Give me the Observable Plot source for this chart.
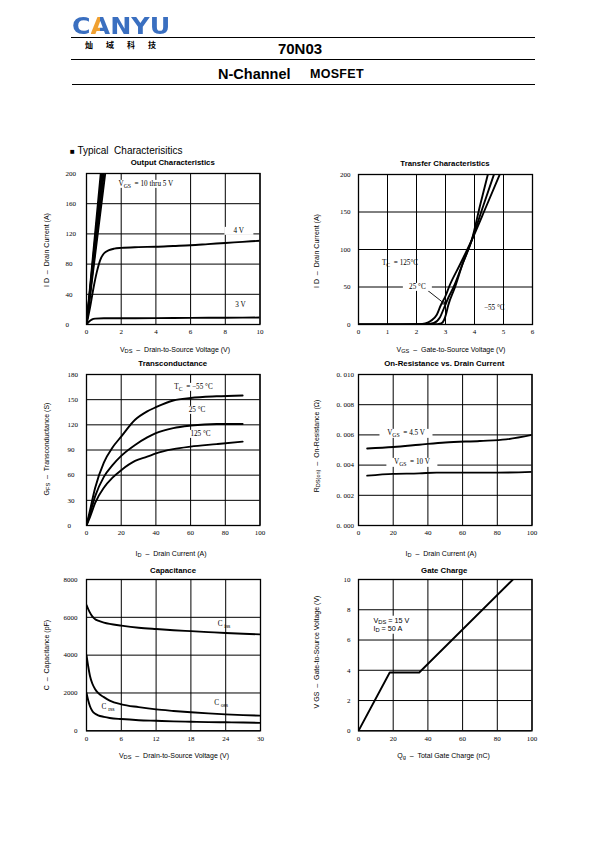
<!DOCTYPE html>
<html>
<head>
<meta charset="utf-8">
<script src="https://cdn.jsdelivr.net/npm/d3@7"></script>
<script src="https://cdn.jsdelivr.net/npm/@observablehq/plot@0.6"></script>
<style>
  body { margin: 0; background: #fff; }
  #page { position: relative; width: 595px; height: 842px; overflow: hidden; background: #fff;
          font-family: "Liberation Sans", Arial, sans-serif; color: #000; }
  .abs { position: absolute; white-space: nowrap; line-height: 1; }
  .hline { position: absolute; height: 0; border-top: 1px solid #000; }
  .title { font-weight: bold; font-size: 7.8px; transform: translate(-50%, -50%); }
  .xlab { font-size: 7px; transform: translate(-50%, -50%); }
  .ylab { font-size: 7px; transform: translate(-50%, -50%) rotate(-90deg); }
  sub { font-size: 0.8em; vertical-align: -0.3em; line-height: 0; }
  .ann { font-family: "Liberation Serif", serif; font-size: 7.2px; background: #fff; padding: 0 4px;
         transform: translate(-50%, -50%); line-height: 1.15; }
  .ann.sans { font-family: "Liberation Sans", Arial, sans-serif; font-size: 7.2px; padding: 1px 2px; text-align: left; }
  .ann.clear { background: transparent; }
  svg { overflow: visible; }
</style>
</head>
<body>
<div id="page"></div>
<script>
// ---------------- DATA ----------------
// Output Characteristics (ID vs VDS)
const outXTicks = [0, 2, 4, 6, 8, 10];
const outYTicks = [0, 40, 80, 120, 160, 200];
const outVgs10 = [[0, 0], [0.82, 200]];
const outVgs8 = [[0, 0], [0.88, 200]];
const outVgs7 = [[0, 0], [0.94, 200]];
const outVgs6 = [[0, 0], [1.0, 200]];
const outVgs5 = [[0, 0], [1.08, 200]];
const outVgs4 = [[0, 0], [0.2, 22], [0.4, 48], [0.6, 70], [0.8, 86], [1, 94], [1.3, 98.5], [1.6, 100.5], [2, 101.5],
                 [3, 102.5], [4, 103], [5, 104], [6, 105], [7, 106.5], [8, 108], [9, 109.5], [10, 111]];
const outVgs3 = [[0, 0], [0.15, 4], [0.3, 6.5], [0.5, 7.8], [1, 8.3], [2, 8.3], [4, 8.5], [6, 8.8], [8, 9], [10, 9.2]];

// Transfer Characteristics (ID vs VGS)
const trXTicks = [0, 1, 2, 3, 4, 5, 6];
const trYTicks = [0, 50, 100, 150, 200];
const trTc125 = [[0, 0], [2.0, 0.3], [2.3, 1.5], [2.5, 5], [2.7, 13], [2.83, 25], [3.0, 38], [3.12, 50], [3.5, 80],
                 [3.9, 112], [4.4, 157], [4.87, 200]];
const trTc25 = [[0, 0], [2.3, 0.3], [2.6, 2], [2.8, 9], [2.98, 25], [3.1, 36], [3.28, 50], [3.6, 82], [3.9, 112],
                [4.3, 158], [4.67, 200]];
const trTcM55 = [[0, 0], [2.6, 0.3], [2.85, 1.5], [2.95, 6], [3.02, 14], [3.09, 25], [3.33, 50], [3.6, 82],
                 [3.9, 112], [4.2, 160], [4.46, 200]];

// Transconductance (gFS vs ID)
const gfsXTicks = [0, 20, 40, 60, 80, 100];
const gfsYTicks = [0, 30, 60, 90, 120, 150, 180];
const gfsTcM55 = [[0, 0], [2, 18], [5, 45], [10, 75], [15, 93], [20, 106], [28, 126], [35, 136], [40, 141],
                  [50, 149], [60, 152], [75, 154], [90, 155]];
const gfsTc25 = [[0, 0], [2, 14], [5, 35], [10, 58], [15, 72], [20, 83], [28, 96], [35, 105], [40, 110],
                 [50, 116], [60, 119], [75, 121], [90, 121]];
const gfsTc125 = [[0, 0], [2, 10], [5, 27], [10, 45], [15, 57], [20, 66], [28, 77], [35, 82], [40, 86],
                  [50, 91], [60, 94], [75, 97], [90, 100]];

// On-Resistance vs Drain Current
const rdsXTicks = [0, 20, 40, 60, 80, 100];
const rdsYTicks = [0, 0.002, 0.004, 0.006, 0.008, 0.010];
const rdsVgs45 = [[5, 0.0051], [20, 0.0052], [35, 0.00535], [50, 0.0055], [70, 0.0056], [85, 0.0057], [100, 0.0060]];
const rdsVgs10 = [[5, 0.0033], [20, 0.00342], [35, 0.00345], [45, 0.0035], [60, 0.0035], [80, 0.0035], [100, 0.00355]];

// Capacitance (pF vs VDS)
const capXTicks = [0, 6, 12, 18, 24, 30];
const capYTicks = [0, 2000, 4000, 6000, 8000];
const capCiss = [[0, 6650], [0.5, 6300], [1, 6050], [1.5, 5900], [2, 5820], [3, 5720], [4, 5650], [6, 5560],
                 [9, 5450], [12, 5380], [15, 5320], [18, 5270], [21, 5220], [24, 5170], [27, 5130], [30, 5100]];
const capCoss = [[0, 4000], [0.3, 3400], [0.6, 2900], [1, 2500], [1.5, 2200], [2, 2000], [3, 1780], [4, 1600],
                 [6, 1400], [9, 1250], [12, 1130], [15, 1050], [18, 980], [21, 920], [24, 870], [27, 830], [30, 800]];
const capCrss = [[0, 2000], [0.3, 1600], [0.6, 1300], [1, 1050], [1.5, 900], [2, 820], [3, 740], [4, 680],
                 [6, 620], [9, 560], [12, 530], [15, 500], [18, 480], [21, 460], [24, 450], [27, 440], [30, 420]];

// Gate Charge (VGS vs Qg)
const gcXTicks = [0, 20, 40, 60, 80, 100];
const gcYTicks = [0, 2, 4, 6, 8, 10];
const gcVgs = [[0, 0], [18, 3.85], [35, 3.85], [89, 10]];

// ---------------- PAGE ----------------
const page = document.getElementById("page");
function addDiv(cls, html, left, top, extra) {
  const d = document.createElement("div");
  d.className = "abs " + cls;
  d.innerHTML = html;
  d.style.left = left + "px";
  d.style.top = top + "px";
  if (extra) Object.assign(d.style, extra);
  page.appendChild(d);
  return d;
}
function hline(x1, x2, y) {
  const d = document.createElement("div");
  d.className = "hline";
  d.style.left = x1 + "px"; d.style.width = (x2 - x1) + "px"; d.style.top = y + "px";
  page.appendChild(d);
}

// Header
const logo = addDiv("", "C<span class='la'>A</span>NYU", 72, 16, {
  fontFamily: '"DejaVu Sans", sans-serif', fontWeight: "bold", fontSize: "23px", color: "#3a6fc0",
  lineHeight: "20px", height: "20px", transform: "scaleX(1.1)", transformOrigin: "left top"
});
const la = logo.querySelector(".la");
Object.assign(la.style, {
  background: "linear-gradient(90deg, #f0a030 0%, #f0a030 48%, #3a6fc0 48%, #3a6fc0 100%)",
  backgroundClip: "text", color: "transparent"
});
la.style.setProperty("-webkit-background-clip", "text");
addDiv("", "灿域科技", 85, 41, {
  fontFamily: '"Noto Sans CJK SC", sans-serif', fontWeight: "bold", fontSize: "8px", letterSpacing: "13px"
});
hline(71, 535, 37);
addDiv("", "70N03", 300, 48, { fontWeight: "bold", fontSize: "15px", transform: "translate(-50%,-50%)" });
hline(71, 535, 59);
addDiv("", "N-Channel", 218, 74, { fontWeight: "bold", fontSize: "14.5px", transform: "translateY(-50%)" });
addDiv("", "MOSFET", 310, 73.5, { fontWeight: "bold", fontSize: "12.5px", letterSpacing: "0.3px", transform: "translateY(-50%)" });
hline(72, 535, 84);
addDiv("", "<span style='font-size:8px'>■</span> Typical&nbsp; Characterisitics", 70, 151, { fontSize: "10px", transform: "translateY(-50%)" });

// ---------------- PANELS ----------------
const ML = 40, MR = 12, MT = 10, MB = 24;
function panel(p) {
  const chart = Plot.plot({
    width: p.w + ML + MR, height: p.h + MT + MB,
    marginLeft: ML, marginRight: MR, marginTop: MT, marginBottom: MB,
    x: { domain: p.xDomain },
    y: { domain: p.yDomain },
    style: { fontFamily: '"Liberation Serif", serif', fontSize: "7px", color: "#000", background: "transparent", overflow: "visible" },
    marks: [
      Plot.gridX(p.xTicks, { stroke: "#000", strokeOpacity: 1, strokeWidth: 1 }),
      Plot.gridY(p.yTicks, { stroke: "#000", strokeOpacity: 1, strokeWidth: 1 }),
      ...p.series.map(s => Plot.line(s, { x: d => d[0], y: d => d[1], stroke: "#000", strokeWidth: 1.9, curve: p.curve || "monotone-x", clip: true })),
      ...(p.extra || []),
      Plot.frame({ stroke: "#000", strokeWidth: 1.3 }),
      Plot.axisX(p.xTicks, { tickSize: 0, tickPadding: 5, label: null, tickFormat: p.xFmt || (d => String(d)) }),
      Plot.axisY(p.yTicks, { tickSize: 0, tickPadding: p.yPad, textAnchor: p.yAnchor, label: null, tickFormat: p.yFmt || (d => String(d)) })
    ]
  });
  const ox = p.left - ML, oy = p.top - MT;
  chart.style.position = "absolute";
  chart.style.left = ox + "px";
  chart.style.top = oy + "px";
  chart.style.maxWidth = "none";
  page.appendChild(chart);
  const sx = chart.scale("x"), sy = chart.scale("y");
  for (const a of (p.ann || [])) {
    addDiv("ann " + (a.cls || ""), a.html, ox + sx.apply(a.x), oy + sy.apply(a.y));
  }
  const cx = p.left + p.w / 2;
  addDiv("title", p.title, p.titleX ?? cx, p.titleY);
  addDiv("xlab", p.xlab, p.xlabX ?? cx, p.xlabY);
  addDiv("ylab", p.ylab, p.ylabX, p.ylabY);
}

const D = "&nbsp;&nbsp;–&nbsp;&nbsp;";

// Annotation labels (text placed in data units)
const outLabels = [
  { x: 3.45, y: 186, html: "&nbsp;V<sub>GS</sub>&nbsp; = 10 thru 5 V&nbsp;" },
  { x: 8.8, y: 123, html: "&nbsp;&nbsp;&nbsp;4 V&nbsp;&nbsp;&nbsp;" },
  { x: 8.9, y: 25, html: "3 V", cls: "clear" }
];
const trLabels = [
  { x: 1.45, y: 81, html: "T<sub>C</sub>&nbsp; = 125°C", cls: "clear" },
  { x: 2.05, y: 50, html: "&nbsp;25 °C&nbsp;" },
  { x: 4.7, y: 21, html: "−55 °C", cls: "clear" }
];
const trArrow = [{ x1: 2.4, y1: 45, x2: 2.99, y2: 27 }];
const gfsLabels = [
  { x: 62, y: 165, html: "T<sub>C</sub>&nbsp; = −55 °C" },
  { x: 64, y: 137, html: "25 °C" },
  { x: 66, y: 109, html: "125 °C" }
];
const rdsLabels = [
  { x: 28, y: 0.00607, html: "&nbsp;&nbsp;V<sub>GS</sub>&nbsp; = 4.5 V&nbsp;&nbsp;" },
  { x: 31.4, y: 0.00415, html: "&nbsp;&nbsp;V<sub>GS</sub>&nbsp; = 10 V&nbsp;&nbsp;" }
];
const capLabels = [
  { x: 23.8, y: 5620, html: "C <sub>iss</sub>", cls: "clear" },
  { x: 23.3, y: 1430, html: "C <sub>oss</sub>", cls: "clear" },
  { x: 3.8, y: 1216, html: "C <sub>rss</sub>", cls: "clear" }
];
const gcLabels = [
  { x: 19.5, y: 6.95, html: "V<sub>DS</sub> = 15 V<br>I<sub>D</sub> = 50 A", cls: "sans" }
];

panel({
  left: 86, top: 173, w: 173.5, h: 151,
  xDomain: [0, 10], yDomain: [0, 200], xTicks: outXTicks, yTicks: outYTicks,
  yPad: 21, yAnchor: "start", curve: "monotone-x",
  series: [outVgs10, outVgs8, outVgs7, outVgs6, outVgs5, outVgs4, outVgs3],
  ann: outLabels,
  title: "Output Characteristics", titleY: 163,
  xlab: "V<sub>DS</sub>" + D + "Drain-to-Source Voltage (V)", xlabX: 175, xlabY: 349,
  ylab: "I D" + D + "Drain Current (A)", ylabX: 46, ylabY: 250
});
panel({
  left: 358, top: 174, w: 174, h: 150,
  xDomain: [0, 6], yDomain: [0, 200], xTicks: trXTicks, yTicks: trYTicks,
  yPad: 8, yAnchor: "end",
  series: [trTc125, trTc25, trTcM55],
  extra: [Plot.arrow(trArrow, { x1: "x1", y1: "y1", x2: "x2", y2: "y2", stroke: "#000", strokeWidth: 0.9, headLength: 5, clip: true })],
  ann: trLabels,
  title: "Transfer Characteristics", titleY: 163.5,
  xlab: "V<sub>GS</sub>" + D + "Gate-to-Source Voltage (V)", xlabX: 451, xlabY: 349,
  ylab: "I D" + D + "Drain Current (A)", ylabX: 316, ylabY: 251
});
panel({
  left: 86, top: 374, w: 173.5, h: 151,
  xDomain: [0, 100], yDomain: [0, 180], xTicks: gfsXTicks, yTicks: gfsYTicks,
  yPad: 19, yAnchor: "start",
  series: [gfsTcM55, gfsTc25, gfsTc125],
  ann: gfsLabels,
  title: "Transconductance", titleY: 363.5,
  xlab: "I<sub>D</sub>" + D + "Drain Current (A)", xlabX: 171, xlabY: 553,
  ylab: "G<sub>FS</sub>" + D + "Transconductance (S)", ylabX: 46, ylabY: 449
});
panel({
  left: 357.5, top: 374, w: 173.5, h: 151,
  xDomain: [0, 100], yDomain: [0, 0.010], xTicks: rdsXTicks, yTicks: rdsYTicks,
  yPad: 22, yAnchor: "start", yFmt: d => d.toFixed(3).replace(".", ". "),
  series: [rdsVgs45, rdsVgs10],
  ann: rdsLabels,
  title: "On-Resistance vs. Drain Current", titleY: 363.5,
  xlab: "I<sub>D</sub>" + D + "Drain Current (A)", xlabX: 441, xlabY: 552.5,
  ylab: "R<sub>DS(on)</sub>" + D + "On-Resistance (Ω)", ylabX: 316, ylabY: 446
});
panel({
  left: 86, top: 578.7, w: 174, h: 151.3,
  xDomain: [0, 30], yDomain: [0, 8000], xTicks: capXTicks, yTicks: capYTicks,
  yPad: 9, yAnchor: "end",
  series: [capCiss, capCoss, capCrss],
  ann: capLabels,
  title: "Capacitance", titleY: 571,
  xlab: "V<sub>DS</sub>" + D + "Drain-to-Source Voltage (V)", xlabX: 174, xlabY: 754.5,
  ylab: "C" + D + "Capacitance (pF)", ylabX: 46, ylabY: 655
});
panel({
  left: 357.5, top: 578.7, w: 173.5, h: 151.3,
  xDomain: [0, 100], yDomain: [0, 10], xTicks: gcXTicks, yTicks: gcYTicks,
  yPad: 8, yAnchor: "end", curve: "linear",
  series: [gcVgs],
  ann: gcLabels,
  title: "Gate Charge", titleY: 571,
  xlab: "Q<sub>g</sub>" + D + "Total Gate Charge (nC)", xlabX: 443.5, xlabY: 755,
  ylab: "V GS" + D + "Gate-to-Source Voltage (V)", ylabX: 316, ylabY: 652
});
</script>
</body>
</html>
